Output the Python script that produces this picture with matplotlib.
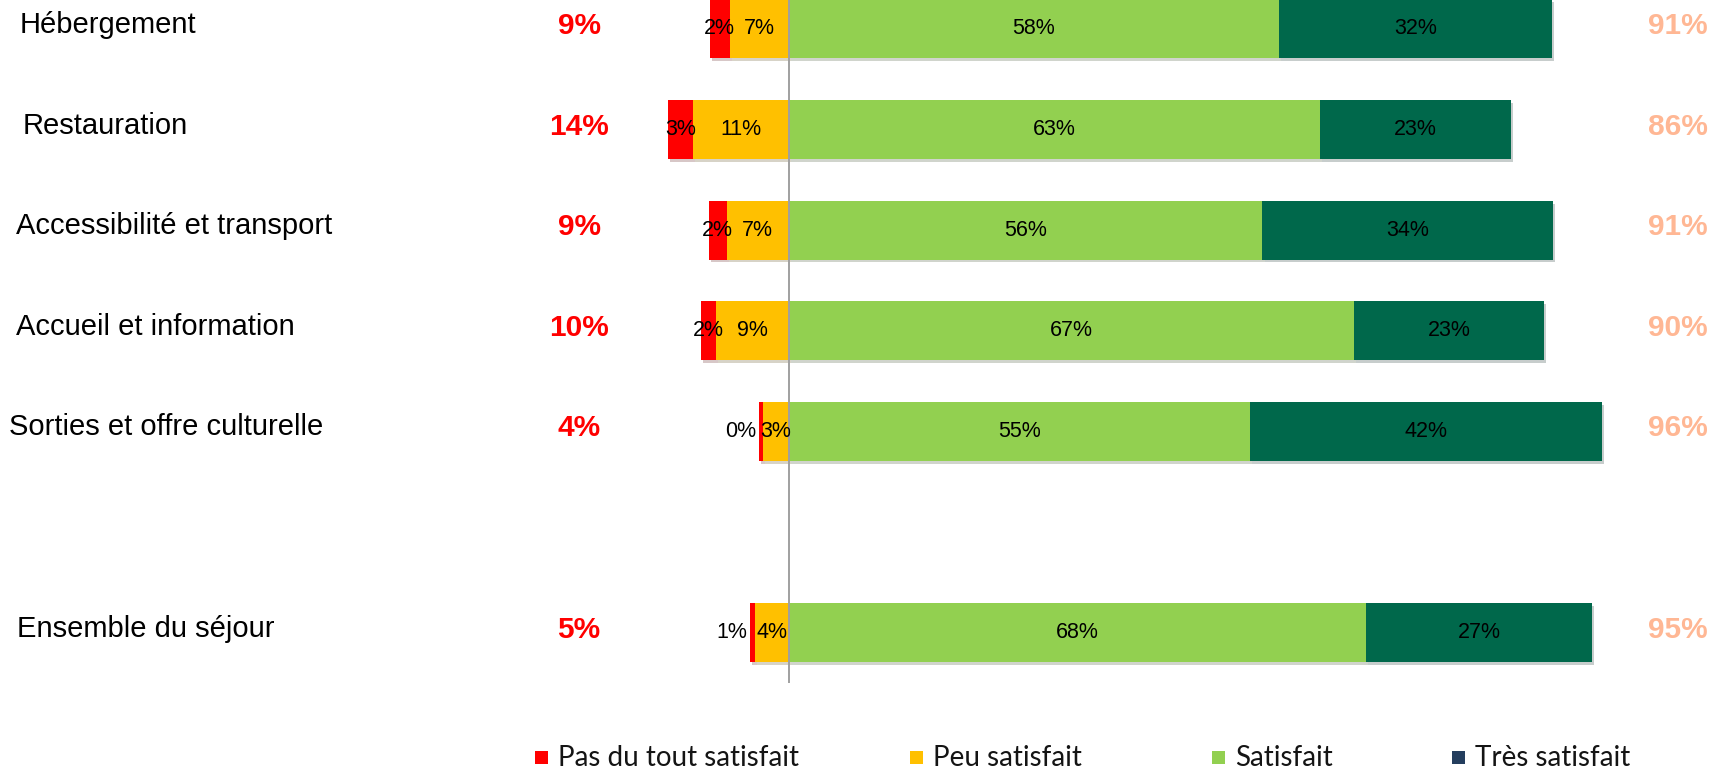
"""Satisfaction par poste — barres divergentes empilées."""

import matplotlib.pyplot as plt
import matplotlib.patheffects as pe
from matplotlib.patches import Rectangle

plt.rcParams["font.family"] = ["Liberation Sans", "DejaVu Sans"]

categories = [
    "Hébergement",
    "Restauration",
    "Accessibilité et transport",
    "Accueil et information",
    "Sorties et offre culturelle",
    "Ensemble du séjour",
]
pas_du_tout = [2.4, 2.9, 2.1, 1.8, 0.45, 0.6]
peu = [7.0, 11.4, 7.4, 8.6, 3.1, 4.0]
satisfait = [58.0, 62.9, 56.1, 66.9, 54.6, 68.4]
tres = [32.4, 22.6, 34.4, 22.6, 41.7, 26.7]
neg_total = [9, 14, 9, 10, 4, 5]
pos_total = [91, 86, 91, 90, 96, 95]
legend_labels = ["Pas du tout satisfait", "Peu satisfait", "Satisfait", "Très satisfait"]

RED, YELLOW, GREEN, DARK = "#FF0000", "#FFC000", "#92D050", "#00684B"
LEGEND_COLORS = [RED, YELLOW, GREEN, "#243E5E"]

W, H = 1709, 770
ZERO_PX, PX_PER_PCT = 789, 8.44
ROW0_PX, ROW_PX = 29, 100.6
rows = [0, 1, 2, 3, 4, 6]
label_px = [20, 23, 16, 16, 9, 17]


def px_to_x(px):
    return (px - ZERO_PX) / PX_PER_PCT


fig = plt.figure(figsize=(W / 100, H / 100), dpi=100)
ax = fig.add_axes([0, 0, 1, 1])
ax.set_xlim(px_to_x(0), px_to_x(W))
ax.set_ylim((H - ROW0_PX) / ROW_PX, -ROW0_PX / ROW_PX)
ax.axis("off")

shadow = [pe.SimplePatchShadow(offset=(1.5, -2), alpha=0.22), pe.Normal()]
bh = 0.585
neg_left = [-(p + r) for p, r in zip(peu, pas_du_tout)]
segments = [
    (pas_du_tout, neg_left, RED),
    (peu, [-p for p in peu], YELLOW),
    (satisfait, [0] * len(rows), GREEN),
    (tres, satisfait, DARK),
]
for vals, lefts, color in segments:
    bars = ax.barh(rows, vals, left=lefts, height=bh, color=color, zorder=2)
    for b in bars:
        b.set_path_effects(shadow)
    for y, v, l in zip(rows, vals, lefts):
        if v < 1:
            ax.text(l - 0.3, y, f"{v:.0f}%", ha="right", va="center",
                    fontsize=15.5, color="black", zorder=4)
        else:
            ax.text(l + v / 2, y, f"{v:.0f}%", ha="center", va="center",
                    fontsize=15.5, color="black", zorder=4)

ax.vlines(0, ax.get_ylim()[1], 6.5, color="#A0A0A0", linewidth=1.4, zorder=3)

for y, name, lx, n, p in zip(rows, categories, label_px, neg_total, pos_total):
    ax.text(px_to_x(lx), y - 0.04, name, ha="left", va="center", fontsize=21,
            color="black")
    ax.text(px_to_x(579), y - 0.03, f"{n}%", ha="center", va="center",
            fontsize=21.5, fontweight="bold", color="#FF0000")
    ax.text(px_to_x(1678), y - 0.03, f"{p}%", ha="center", va="center",
            fontsize=21.5, fontweight="bold", color="#FFB794")

# légende manuelle, comme dans l'original
marker_px = [535, 910, 1212, 1452]
for mx, lab, col in zip(marker_px, legend_labels, LEGEND_COLORS):
    fig.add_artist(Rectangle((mx / W, 1 - 764 / H), 13 / W, 13 / H,
                             transform=fig.transFigure, color=col, lw=0))
    fig.text((mx + 23) / W, 1 - 757.5 / H, lab, ha="left", va="center",
             fontsize=20, family=["Lato", "DejaVu Sans"], color="#141414")

fig.savefig("out.png", dpi=100)
